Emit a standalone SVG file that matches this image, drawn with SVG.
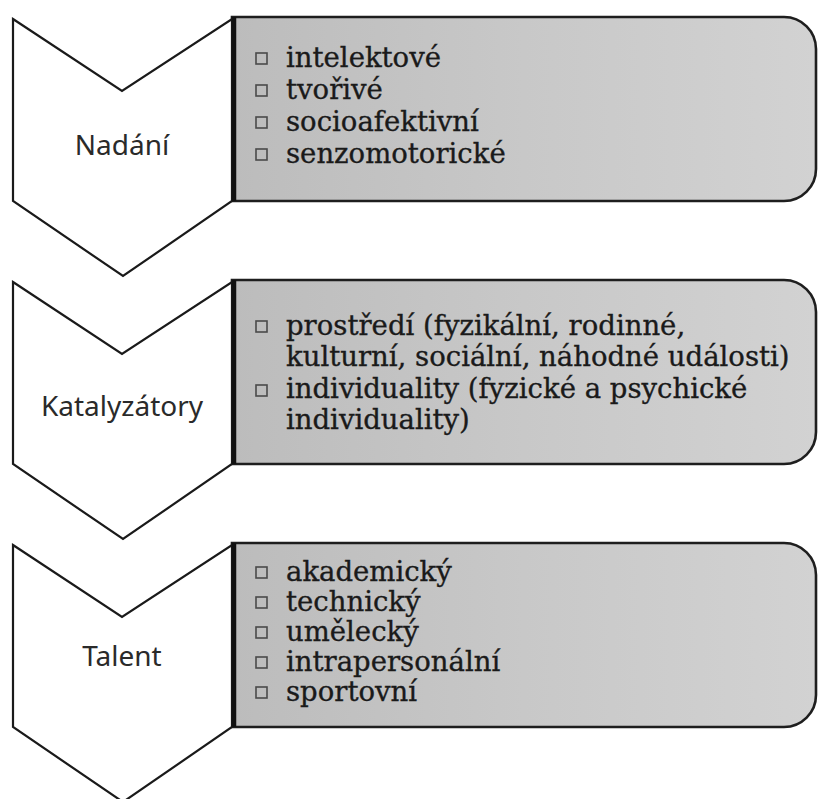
<svg xmlns="http://www.w3.org/2000/svg" width="819" height="799" viewBox="0 0 819 799">
  <defs>
    <linearGradient id="panelFill" x1="0" y1="0" x2="1" y2="0">
      <stop offset="0" stop-color="#bcbcbc"/>
      <stop offset="0.5" stop-color="#c8c8c8"/>
      <stop offset="1" stop-color="#d2d2d2"/>
    </linearGradient>
    <!-- chevron outline and rounded panel, drawn once per block -->
    <path id="chevron" d="M13,19 L122,91 L232,19 L232,201 L123,276 L13,201 Z"/>
    <path id="panel" d="M232,17 H784 A32,32 0 0 1 816,49 V169 A32,32 0 0 1 784,201 H232 Z"/>
  </defs>
  <style>
    .chev { fill: #ffffff; stroke: #1a1a1a; stroke-width: 2.2; stroke-linejoin: miter; }
    .panel { fill: url(#panelFill); stroke: #1e1e1e; stroke-width: 2.6; }
    .edge { stroke: #111111; stroke-width: 4.5; }
    .label { font-family: "Noto Sans", "Open Sans", sans-serif; font-size: 28px; fill: #2a2a2a; text-anchor: middle; }
    .item { font-family: "DejaVu Serif", "Liberation Serif", serif; font-size: 27.5px; fill: #1a1a1a; stroke: #1a1a1a; stroke-width: 0.35; }
    .box { fill: none; stroke: #4a4a4a; stroke-width: 1.6; }
  </style>

  <!-- Block 1: Nadání -->
  <g id="nadani">
    <use href="#panel" class="panel"/>
    <use href="#chevron" class="chev"/>
    <line class="edge" x1="234" y1="17" x2="234" y2="201"/>
    <text class="label" x="122" y="155">Nadání</text>
    <rect class="box" x="256" y="53" width="11" height="11"/>
    <rect class="box" x="256" y="85" width="11" height="11"/>
    <rect class="box" x="256" y="117" width="11" height="11"/>
    <rect class="box" x="256" y="149" width="11" height="11"/>
    <text class="item" x="286" y="67">intelektové</text>
    <text class="item" x="286" y="99">tvořivé</text>
    <text class="item" x="286" y="131">socioafektivní</text>
    <text class="item" x="286" y="163">senzomotorické</text>
  </g>

  <!-- Block 2: Katalyzátory -->
  <g id="katalyzatory" transform="translate(0,263)">
    <use href="#panel" class="panel"/>
    <use href="#chevron" class="chev"/>
    <line class="edge" x1="234" y1="17" x2="234" y2="201"/>
    <text class="label" x="122" y="153">Katalyzátory</text>
    <rect class="box" x="256" y="58" width="11" height="11"/>
    <rect class="box" x="256" y="122" width="11" height="11"/>
    <text class="item" x="286" y="72">prostředí (fyzikální, rodinné,</text>
    <text class="item" x="286" y="103">kulturní, sociální, náhodné události)</text>
    <text class="item" x="286" y="135">individuality (fyzické a psychické</text>
    <text class="item" x="286" y="166">individuality)</text>
  </g>

  <!-- Block 3: Talent -->
  <g id="talent" transform="translate(0,526)">
    <use href="#panel" class="panel"/>
    <use href="#chevron" class="chev"/>
    <line class="edge" x1="234" y1="17" x2="234" y2="201"/>
    <text class="label" x="122" y="140">Talent</text>
    <rect class="box" x="256" y="41" width="11" height="11"/>
    <rect class="box" x="256" y="71" width="11" height="11"/>
    <rect class="box" x="256" y="101" width="11" height="11"/>
    <rect class="box" x="256" y="131" width="11" height="11"/>
    <rect class="box" x="256" y="161" width="11" height="11"/>
    <text class="item" x="286" y="55">akademický</text>
    <text class="item" x="286" y="85">technický</text>
    <text class="item" x="286" y="115">umělecký</text>
    <text class="item" x="286" y="145">intrapersonální</text>
    <text class="item" x="286" y="175">sportovní</text>
  </g>
</svg>
